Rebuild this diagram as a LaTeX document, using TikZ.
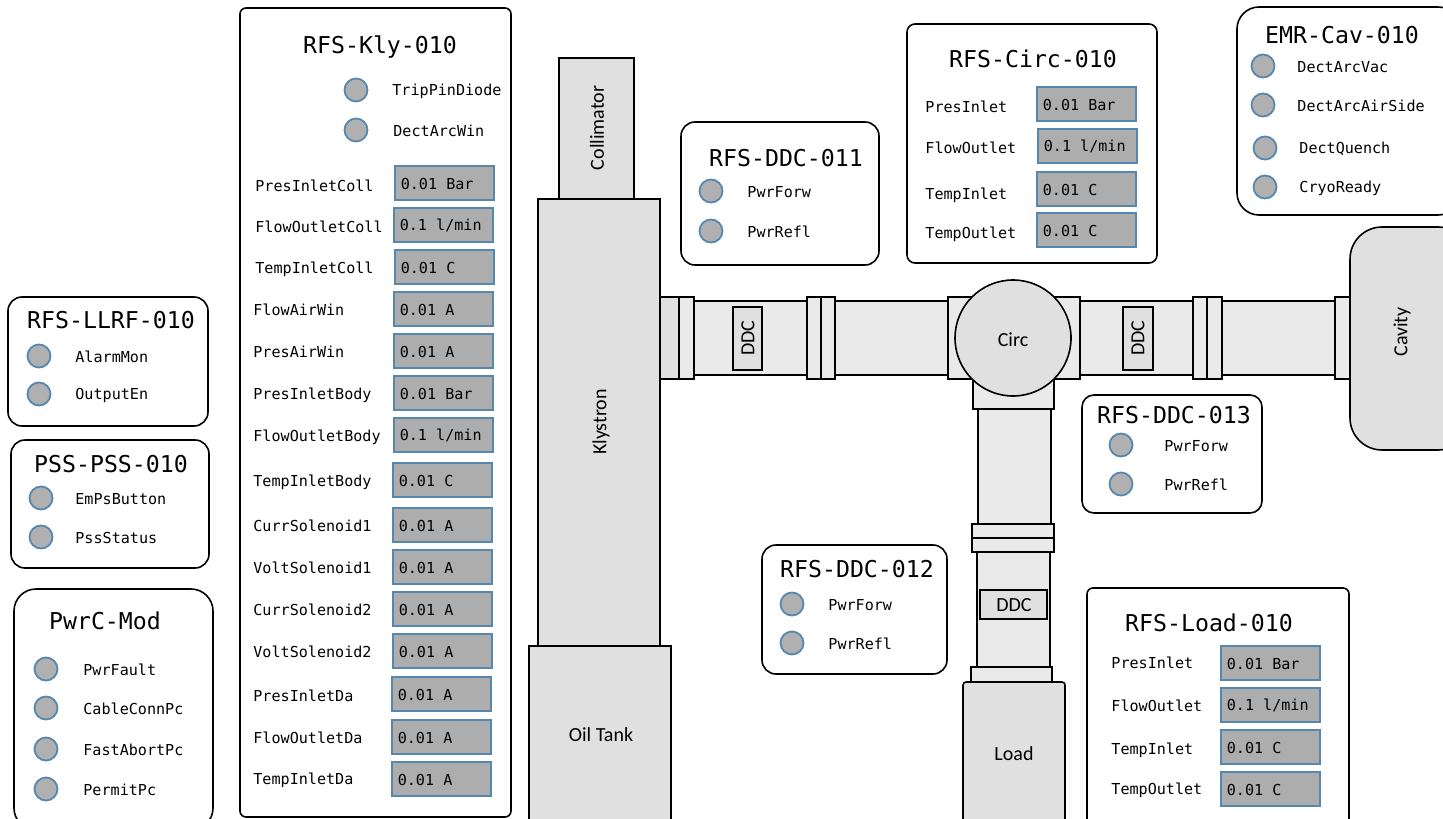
\documentclass[tikz,border=0pt]{standalone}
\usepackage{xcolor}
\usepackage{fontspec}
\setmainfont{Carlito}
\setmonofont{DejaVu Sans Mono}
\usetikzlibrary{arrows.meta,shapes,positioning,calc}
\definecolor{rfBody}  {RGB}{224,224,224}
\definecolor{rfPipe}  {RGB}{234,234,234}
\definecolor{ledGray} {RGB}{176,176,176}
\definecolor{boxGray} {RGB}{173,173,173}
\definecolor{ledBlue} {RGB}{85, 135,175}
\tikzset{
  panel/.style={draw=black,fill=white,line width=0.8pt},
  part/.style={draw=black,fill=rfBody,line width=0.8pt},
  pipe/.style={draw=black,fill=rfPipe,line width=0.8pt},
  partlabel/.style={font=\fontsize{10}{12}\selectfont,inner sep=0pt},
  title/.style={font=\ttfamily\fontsize{11.6}{13}\selectfont,inner sep=0pt},
  sigtext/.style={font=\ttfamily\fontsize{7.55}{9}\selectfont,inner sep=0pt,anchor=west,
                  yshift=-0.5pt},
  led/.style={circle,draw=ledBlue,fill=ledGray,line width=0.9pt,
              minimum size=11.5pt,inner sep=0pt},
  valbox/.style={draw=ledBlue,fill=boxGray,line width=0.9pt,minimum width=49.5pt,
                 minimum height=17pt,inner sep=0pt,anchor=north west}
}
\begin{document}
\begin{tikzpicture}[x=0.5pt,y=-0.5pt]
  \useasboundingbox (0,0) rectangle (1443,818);

  % Klystron
  \draw[part] (559,58) rectangle (634,199);
  \draw[part] (538,199) rectangle (660,646);
  \draw[part] (529,646) rectangle (671,830);
  \node[partlabel,rotate=90] (collimator) at (597,128) {Collimator};
  \node[partlabel,rotate=90] (klystron) at (601,422) {Klystron};
  \node[partlabel] (oiltank) at (601,735) {Oil Tank};

  % Guia horizontal
  \draw[pipe] (660,301) rectangle (1335,375);
  \draw[part] (660,297) rectangle (679,379);
  \foreach \xa/\xb in {679/694, 807/821, 821/835, 1193/1207, 1207/1222, 1335/1350}{
    \draw[pipe] (\xa,297) rectangle (\xb,379);
  }
  % Guia vertical
  \draw[pipe] (978,409) rectangle (1051,524);
  \draw[pipe] (972,524) rectangle (1054,538);
  \draw[pipe] (972,538) rectangle (1054,552);
  \draw[pipe] (977,552) rectangle (1050,667);
  \draw[pipe] (971,667) rectangle (1052,682);

  % Circulador
  \draw[pipe] (973,370) rectangle (1054,409);
  \draw[pipe] (948,297) rectangle (1080,379);
  \node[part,circle,minimum size=58pt,inner sep=0pt] (circ) at (1013,338) {};
  \node[partlabel] (circtext) at (1013,340) {Circ};

  % Carga e cavidade
  \draw[part,rounded corners=1.5pt] (963,682) rectangle (1065,830);
  \node[partlabel] (load) at (1014,754) {Load};
  \draw[part,rounded corners=16pt] (1350,227) rectangle (1470,450);
  \node[partlabel,rotate=90] (cavity) at (1402,332) {Cavity};

  % DDC
  \draw[part] (733,307) rectangle (762,370);
  \node[partlabel,rotate=90] (ddcA) at (748,338) {DDC};
  \draw[part] (1123,307) rectangle (1153,370);
  \node[partlabel,rotate=90] (ddcB) at (1138,338) {DDC};
  \draw[part] (980,590) rectangle (1047,619);
  \node[partlabel] (ddcC) at (1014,605) {DDC};

  % Paineis
  \draw[panel,rounded corners=3pt] (240,8) rectangle (511,817);
  \draw[panel,rounded corners=7pt] (681,122) rectangle (879,265);
  \draw[panel,rounded corners=4pt] (907,24) rectangle (1157,263);
  \draw[panel,rounded corners=11pt] (1237,7) rectangle (1460,215);
  \draw[panel,rounded corners=7pt] (8,297) rectangle (208,426);
  \draw[panel,rounded corners=7pt] (11,440) rectangle (209,568);
  \draw[panel,rounded corners=11pt] (14,589) rectangle (213,830);
  \draw[panel,rounded corners=6pt] (1082,395) rectangle (1262,513);
  \draw[panel,rounded corners=7pt] (762,545) rectangle (947,674);
  \draw[panel,rounded corners=3pt] (1087,588) rectangle (1349,830);

  % Titulos
  \foreach \nome/\txt/\x/\y in {klyT/RFS-Kly-010/380/47, ddcAT/RFS-DDC-011/786/158,
      circT/RFS-Circ-010/1033/59, emrT/EMR-Cav-010/1342/35, llrfT/RFS-LLRF-010/111/320,
      pssT/PSS-PSS-010/111/464, modT/PwrC-Mod/105/621, ddcCT/RFS-DDC-013/1174/415,
      ddcBT/RFS-DDC-012/857/569, loadT/RFS-Load-010/1209/623}{
    \node[title] (\nome) at (\x,\y) {\txt};
  }

  % Sinais digitais
  \foreach \nome/\txt/\cx/\lx/\y in {
      trip/TripPinDiode/356/392/90, arcwin/DectArcWin/356/393/130,
      forwA/PwrForw/711/747/191, reflA/PwrRefl/711/747/231,
      arcvac/DectArcVac/1263/1297/66, arcair/DectArcAirSide/1263/1297/105,
      quench/DectQuench/1265/1299/148, cryo/CryoReady/1265/1299/187,
      alarm/AlarmMon/39/75/356, output/OutputEn/39/75/394,
      empss/EmPsButton/41/75/498, pss/PssStatus/41/75/537,
      fault/PwrFault/46/83/669, cable/CableConnPc/46/83/708,
      abort/FastAbortPc/46/83/749, permit/PermitPc/46/83/789,
      forwC/PwrForw/1121/1164/445, reflC/PwrRefl/1121/1164/484,
      forwB/PwrForw/792/828/604, reflB/PwrRefl/792/828/643}{
    \node[led] (\nome) at (\cx,\y) {};
    \node[sigtext] (\nome Text) at (\lx,\y) {\txt};
  }

  % Medidas
  \foreach \nome/\txt/\val/\lx/\ly/\bx/\by in {
      kA/PresInletColl/{0.01 Bar}/255/185/394/165,
      kB/FlowOutletColl/{0.1 l/min}/255/226/393/207,
      kC/TempInletColl/{0.01 C}/255/268/394/249,
      kD/FlowAirWin/{0.01 A}/253/309/393/291,
      kE/PresAirWin/{0.01 A}/253/351/393/333,
      kF/PresInletBody/{0.01 Bar}/253/394/393/375,
      kG/FlowOutletBody/{0.1 l/min}/253/436/393/417,
      kH/TempInletBody/{0.01 C}/253/481/392/462,
      kI/CurrSolenoid1/{0.01 A}/253/525/392/507,
      kJ/VoltSolenoid1/{0.01 A}/253/567/392/549,
      kK/CurrSolenoid2/{0.01 A}/253/609/392/591,
      kL/VoltSolenoid2/{0.01 A}/253/651/392/633,
      kM/PresInletDa/{0.01 A}/253/695/391/676,
      kN/FlowOutletDa/{0.01 A}/253/737/391/719,
      kO/TempInletDa/{0.01 A}/253/779/391/761,
      cA/PresInlet/{0.01 Bar}/925/106/1036/86,
      cB/FlowOutlet/{0.1 l/min}/925/147/1037/128,
      cC/TempInlet/{0.01 C}/925/194/1036/171,
      cD/TempOutlet/{0.01 C}/925/233/1036/212,
      lA/PresInlet/{0.01 Bar}/1111/662/1220/645,
      lB/FlowOutlet/{0.1 l/min}/1111/705/1220/687,
      lC/TempInlet/{0.01 C}/1111/749/1220/729,
      lD/TempOutlet/{0.01 C}/1111/789/1220/771}{
    \node[sigtext] (\nome Text) at (\lx,\ly) {\txt};
    \node[valbox] (\nome Box) at (\bx,\by) {};
    \node[sigtext] (\nome Val) at ([xshift=3.2pt]\nome Box.west) {\val};
  }
\end{tikzpicture}
\end{document}
